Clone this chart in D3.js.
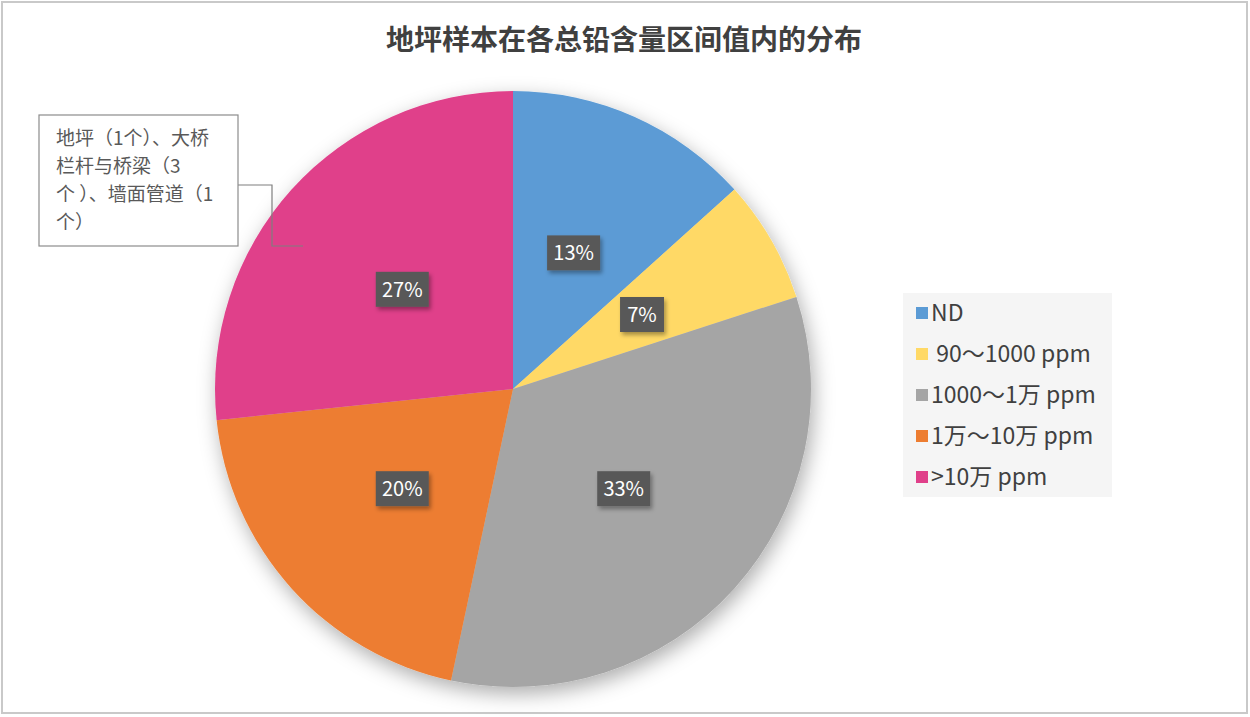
<!DOCTYPE html>
<html>
<head>
<meta charset="utf-8">
<script src="https://cdn.jsdelivr.net/npm/d3@7"></script>
<style>
  body { margin: 0; background: #fff; }
  svg { font-family: "Noto Sans CJK SC", "Noto Sans", sans-serif; }
</style>
</head>
<body>
<svg id="chart" width="1250" height="717"></svg>
<script>
// Chart data
const categories = ["ND", " 90～1000 ppm", "1000～1万 ppm", "1万～10万 ppm", ">10万 ppm"];
const counts = [2, 1, 5, 3, 4];
const pctLabels = ["13%", "7%", "33%", "20%", "27%"];
const colors = ["#5b9bd5", "#ffd966", "#a5a5a5", "#ed7d31", "#e0408a"];
const titleText = "地坪样本在各总铅含量区间值内的分布";
const calloutLines = ["地坪（1个）、大桥", "栏杆与桥梁（3", "个 ）、墙面管道（1", "个）"];

const svg = d3.select("#chart");
const cx = 513, cy = 389, radius = 298;

// filters for the soft shadows
const defs = svg.append("defs");
defs.append("filter").attr("id", "pieShadow")
  .attr("x", "-20%").attr("y", "-20%").attr("width", "140%").attr("height", "140%")
  .append("feDropShadow")
  .attr("dx", 3).attr("dy", 7).attr("stdDeviation", 10)
  .attr("flood-color", "#000").attr("flood-opacity", 0.32);
defs.append("filter").attr("id", "boxShadow")
  .attr("x", "-30%").attr("y", "-30%").attr("width", "160%").attr("height", "160%")
  .append("feDropShadow")
  .attr("dx", 2).attr("dy", 3).attr("stdDeviation", 2)
  .attr("flood-color", "#000").attr("flood-opacity", 0.35);

// chart border
svg.append("rect")
  .attr("x", 2).attr("y", 2).attr("width", 1245).attr("height", 711)
  .attr("fill", "#fff").attr("stroke", "#c9c9c9").attr("stroke-width", 2);

// title
svg.append("text")
  .attr("x", 624).attr("y", 50)
  .attr("text-anchor", "middle")
  .attr("font-size", 28).attr("font-weight", "bold")
  .attr("fill", "#404040")
  .text(titleText);

// pie
const pie = d3.pie().sort(null).value(d => d);
const arcs = pie(counts);
const arc = d3.arc().innerRadius(0).outerRadius(radius);
const labelArc = d3.arc().innerRadius(radius * 0.5).outerRadius(radius * 0.5);

const g = svg.append("g").attr("transform", "translate(" + cx + "," + cy + ")");

g.append("g").attr("filter", "url(#pieShadow)")
  .selectAll("path").data(arcs)
  .join("path")
  .attr("d", arc)
  .attr("fill", (d, i) => colors[i]);

// data labels
const lab = g.selectAll("g.lab").data(arcs)
  .join("g")
  .attr("class", "lab")
  .attr("transform", d => "translate(" + labelArc.centroid(d) + ")");

lab.append("rect")
  .attr("x", (d, i) => pctLabels[i].length > 2 ? -26.5 : -22)
  .attr("y", -17.5)
  .attr("width", (d, i) => pctLabels[i].length > 2 ? 53 : 44)
  .attr("height", 35)
  .attr("fill", "#595959")
  .attr("filter", "url(#boxShadow)");

lab.append("text")
  .attr("text-anchor", "middle")
  .attr("dy", "0.36em")
  .attr("font-size", 20)
  .attr("fill", "#fff")
  .text((d, i) => pctLabels[i]);

// callout for the >10万 slice
svg.append("path")
  .attr("d", "M238,185 H272 V246 H303")
  .attr("fill", "none").attr("stroke", "#7f7f7f").attr("stroke-width", 1.2);
svg.append("rect")
  .attr("x", 39).attr("y", 115).attr("width", 199).attr("height", 131)
  .attr("fill", "#fff").attr("stroke", "#8c8c8c").attr("stroke-width", 1.2);
svg.append("g").selectAll("text").data(calloutLines)
  .join("text")
  .attr("x", 56)
  .attr("y", (d, i) => 145 + i * 28)
  .attr("font-size", 19)
  .attr("fill", "#595959")
  .text(d => d);

// legend
const legend = svg.append("g").attr("transform", "translate(903,293)");
legend.append("rect")
  .attr("width", 209).attr("height", 204)
  .attr("fill", "#f5f5f5");
const items = legend.selectAll("g.item").data(categories)
  .join("g")
  .attr("class", "item")
  .attr("transform", (d, i) => "translate(0," + (20 + i * 41) + ")");
items.append("rect")
  .attr("x", 13).attr("y", -6)
  .attr("width", 12).attr("height", 12)
  .attr("fill", (d, i) => colors[i]);
items.append("text")
  .attr("x", 28)
  .attr("dy", "0.36em")
  .attr("font-size", 23)
  .attr("fill", "#404040")
  .style("white-space", "pre")
  .attr("xml:space", "preserve")
  .text(d => d);
</script>
</body>
</html>
